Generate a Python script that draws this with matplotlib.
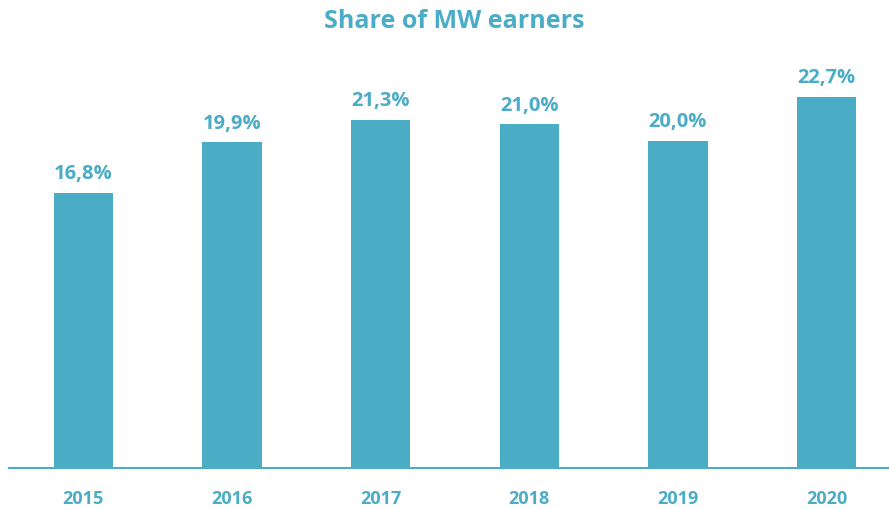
import matplotlib.pyplot as plt

years = ['2015', '2016', '2017', '2018', '2019', '2020']
share = [16.8, 19.9, 21.3, 21.0, 20.0, 22.7]

color = '#4BACC6'
plt.rcParams['font.family'] = ['Open Sans', 'DejaVu Sans']

fig = plt.figure(figsize=(8.89, 5.10), dpi=100)
ax = fig.add_axes([9 / 889, 41 / 510, 880 / 889, 409 / 510])

x = range(len(years))
bars = ax.bar(x, share, width=0.40, color=color)

for xi, v in zip(x, share):
    ax.annotate(f'{v:.1f}%'.replace('.', ','), (xi, v), xytext=(0, 7),
                textcoords='offset points', ha='center', va='bottom',
                fontsize=14.5, fontweight='bold', color=color)

ax.set_xlim(-0.5, 5.42)
ax.set_ylim(0, 25)
ax.set_xticks(list(x))
ax.set_xticklabels(years, fontsize=13, fontweight='bold', color=color)
ax.tick_params(axis='x', length=0, pad=15)
ax.set_yticks([])
for s in ['top', 'right', 'left']:
    ax.spines[s].set_visible(False)
ax.spines['bottom'].set_color(color)
ax.spines['bottom'].set_linewidth(1.5)

fig.text(454 / 889, 1 - 22 / 510, 'Share of MW earners', ha='center', va='center',
         fontsize=18, fontweight='bold', color=color)

fig.savefig('out.png', dpi=100)
